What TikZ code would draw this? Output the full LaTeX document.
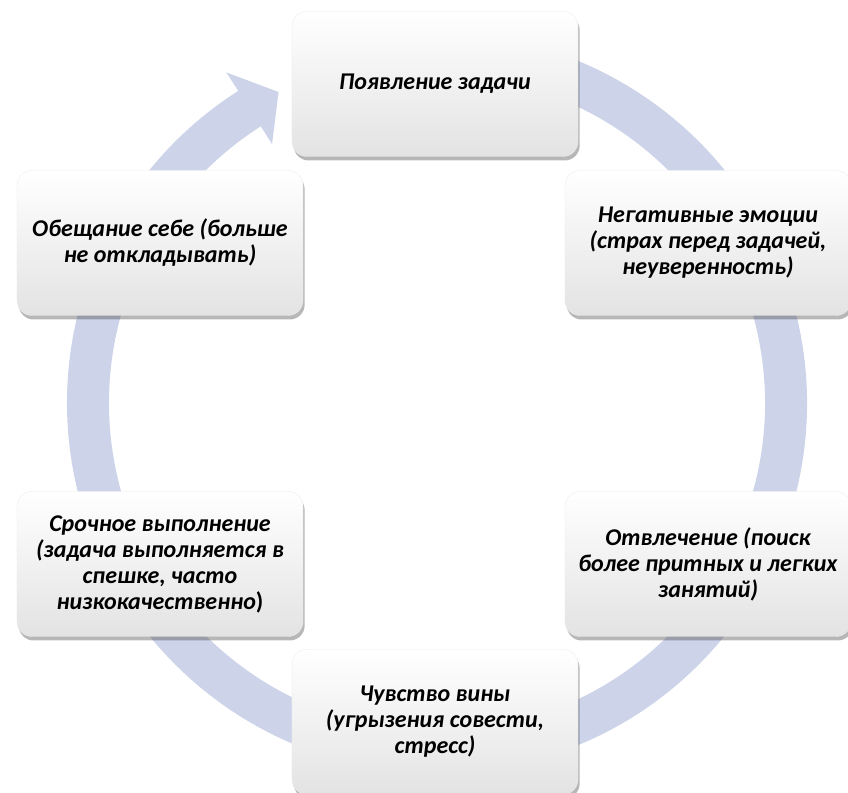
\documentclass[tikz,border=0pt]{standalone}
\usepackage{fontspec}
\setmainfont{Carlito}
\usepackage{tikz}
\usetikzlibrary{shadows,calc}
\definecolor{ringblue}{RGB}{205,212,234}

\begin{document}
\begin{tikzpicture}[x = .03cm, y = .03cm,
  stage/.style = {rounded corners = .45cm, minimum width = 8.58cm, minimum height = 4.35cm,
    inner sep = 0pt, align = center, top color = white, bottom color = black!11,
    draw = black!8, line width = .3pt,
    drop shadow = {shadow xshift = .05cm, shadow yshift = -.12cm, opacity = .4, fill = black!70},
    font = \fontsize{20.5}{22.2}\selectfont\bfseries\itshape}]
\useasboundingbox (0,0) rectangle (848,793);
\coordinate (hub) at (437,390);
\draw[ringblue, line width = 1.26cm] (hub) ++(100:349) arc[start angle = 100, end angle = -238, radius = 349];
\fill[ringblue] (hub) ++(117:349) coordinate (tip) -- ($(hub)+(122.5:392)$) -- ($(hub)+(122.5:307)$) -- cycle;
\node[stage] (appear) at (435,709) {Появление задачи};
\node[stage] (negative) at (708,550) {Негативные эмоции\\(страх перед задачей,\\неуверенность)};
\node[stage] (distract) at (708,229) {Отвлечение (поиск\\более притных и легких\\занятий)};
\node[stage] (guilt) at (435,71) {Чувство вины\\(угрызения совести,\\стресс)};
\node[stage] (rush) at (160,229) {Срочное выполнение\\(задача выполняется в\\спешке, часто\\низкокачественно\textup{)}};
\node[stage] (promise) at (160,550) {Обещание себе (больше\\не откладывать)};
\end{tikzpicture}
\end{document}
